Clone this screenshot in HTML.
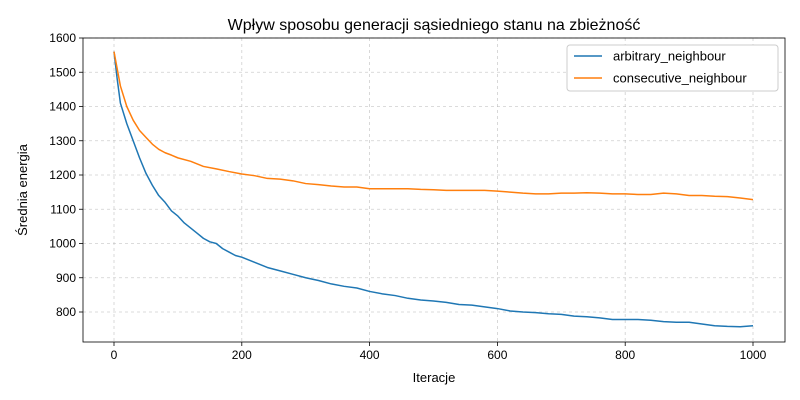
<!DOCTYPE html>
<html><head><meta charset="utf-8"><style>
body{margin:0;background:#fff;}
svg{display:block;font-family:"Liberation Sans","DejaVu Sans",sans-serif;}
</style></head><body>
<svg id="chart" width="800" height="400" viewBox="0 0 800 400"></svg>
<script>
const iterations=[0,5,10,20,30,40,50,60,70,80,90,100,110,120,130,140,150,160,170,180,190,200,220,240,260,280,300,320,340,360,380,400,420,440,460,480,500,520,540,560,580,600,620,640,660,680,700,720,740,760,780,800,820,840,860,880,900,920,940,960,980,1000];
const arbitraryNeighbour=[1560,1480,1410,1350,1300,1250,1205,1170,1140,1120,1095,1080,1060,1045,1030,1015,1005,1000,985,975,965,960,945,930,920,910,900,892,882,875,870,860,853,848,840,835,832,828,822,820,815,810,803,800,798,795,793,788,786,783,778,778,778,776,772,770,770,765,760,758,757,760];
const orangeIter=[0,10,20,30,40,50,60,70,80,90,100,120,140,160,180,200,220,240,260,280,300,320,340,360,380,400,420,440,460,480,500,520,540,560,580,600,620,640,660,680,700,720,740,760,780,800,820,840,860,880,900,920,940,960,980,1000];
const consecutiveNeighbour=[1560,1460,1400,1360,1330,1310,1290,1275,1265,1258,1250,1240,1225,1218,1210,1203,1198,1190,1188,1183,1175,1172,1168,1165,1165,1160,1160,1160,1160,1158,1157,1155,1155,1155,1155,1153,1150,1147,1145,1145,1147,1147,1148,1147,1145,1145,1143,1143,1147,1145,1140,1140,1138,1137,1133,1128];
const xTicks=[0,200,400,600,800,1000];
const yTicks=[800,900,1000,1100,1200,1300,1400,1500,1600];

const L=83,R=785,T=38,B=342;
const xs=v=>114+v*0.639;
const ys=v=>38+(1600-v)*0.3425;
const svg=document.getElementById('chart');
const NS='http://www.w3.org/2000/svg';
function mk(tag,attrs,parent){const e=document.createElementNS(NS,tag);for(const k in attrs)e.setAttribute(k,attrs[k]);(parent||svg).appendChild(e);return e;}

for(const t of xTicks){
  const g=mk('line',{x1:xs(t),x2:xs(t),y1:T,y2:B,stroke:'#b0b0b0','stroke-width':0.8,'stroke-dasharray':'3,3',opacity:0.6});
  
  
  const tk=mk('line',{x1:xs(t),x2:xs(t),y1:B,y2:B+4,stroke:'#000','stroke-width':0.8});
  
  
  const tx=mk('text',{x:xs(t),y:B+17,'text-anchor':'middle','font-size':12});
  tx.textContent=t;
  
  
}
for(const t of yTicks){
  const g=mk('line',{x1:L,x2:R,y1:ys(t),y2:ys(t),stroke:'#b0b0b0','stroke-width':0.8,'stroke-dasharray':'3,3',opacity:0.6});
  
  
  const tk=mk('line',{x1:L-4,x2:L,y1:ys(t),y2:ys(t),stroke:'#000','stroke-width':0.8});
  
  
  const tx=mk('text',{x:L-7,y:ys(t)+4,'text-anchor':'end','font-size':12});
  tx.textContent=t;
  
  
}
function line(xv,yv,color,name){
  const p=mk('polyline',{points:xv.map((x,i)=>xs(x)+','+ys(yv[i])).join(' '),fill:'none',stroke:color,'stroke-width':1.5,'stroke-linejoin':'round'});
  
  
}
line(iterations,arbitraryNeighbour,'#1f77b4','arbitrary-neighbour-line');
line(orangeIter,consecutiveNeighbour,'#ff7f0e','consecutive-neighbour-line');

const fr=mk('rect',{x:L,y:T,width:R-L,height:B-T,fill:'none',stroke:'#000','stroke-width':0.8});



const title=mk('text',{x:434,y:30,'text-anchor':'middle','font-size':16});
title.textContent='Wpływ sposobu generacji sąsiedniego stanu na zbieżność';


const xl=mk('text',{x:434,y:382,'text-anchor':'middle','font-size':13});
xl.textContent='Iteracje';


const yl=mk('text',{x:27,y:190,'text-anchor':'middle','font-size':13,transform:'rotate(-90 27 190)'});
yl.textContent='Średnia energia';



const lg=mk('g',{});


mk('rect',{x:567,y:45,width:211,height:46,rx:3,fill:'#fff',stroke:'#ccc','stroke-width':1},lg);
const entries=[['arbitrary_neighbour','#1f77b4'],['consecutive_neighbour','#ff7f0e']];
entries.forEach((e,i)=>{
  const y=56+i*22;
  const ent=mk('g',{},lg);
  
  
  mk('line',{x1:574,x2:602,y1:y,y2:y,stroke:e[1],'stroke-width':1.5},ent);
  const t=mk('text',{x:613,y:y+4.5,'font-size':13},ent);
  t.textContent=e[0];
});
</script>
</body></html>
